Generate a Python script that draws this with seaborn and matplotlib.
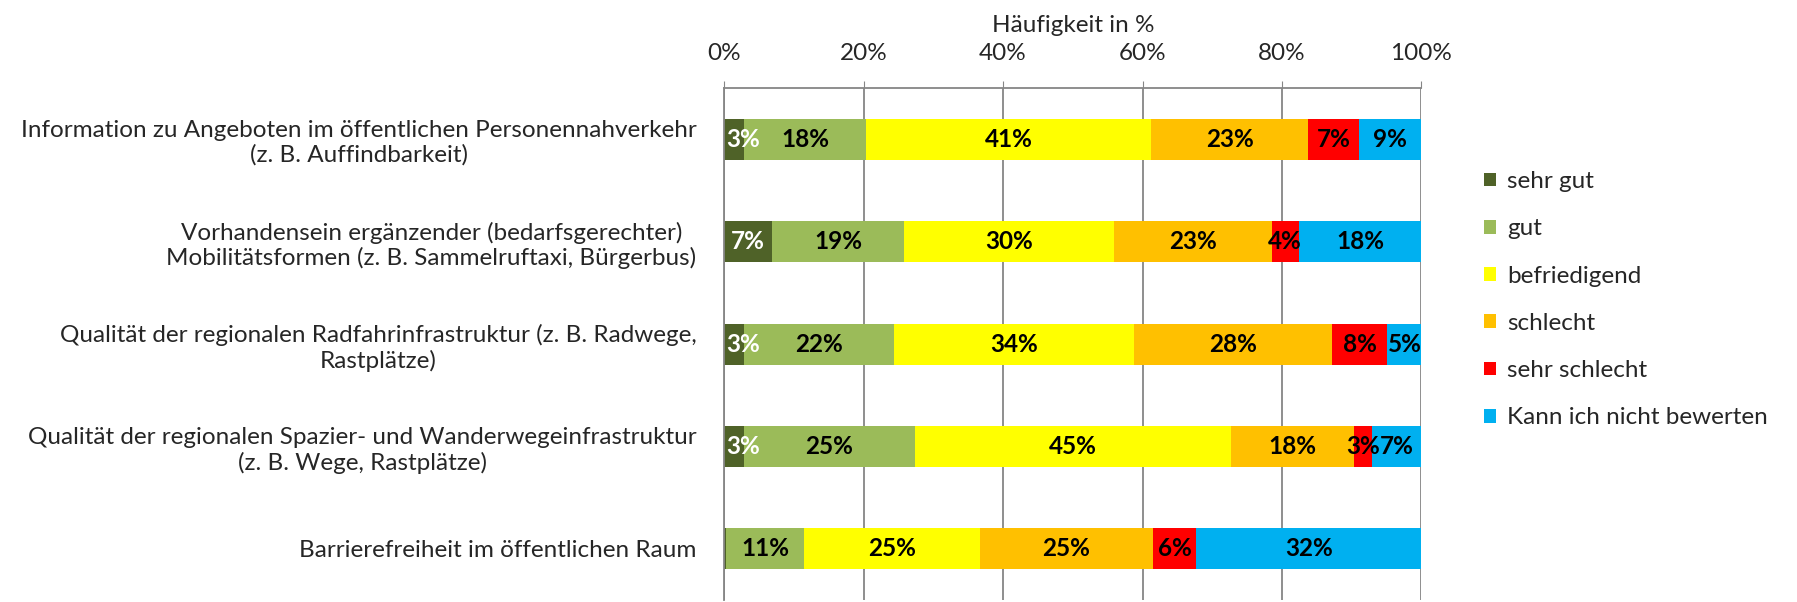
import matplotlib.pyplot as plt
import pandas as pd
import seaborn as sns
from matplotlib.patches import Patch

sns.set_style("white")
plt.rcParams["font.family"] = ["Lato", "DejaVu Sans"]

## Data
categories = [
    "Information zu Angeboten im öffentlichen Personennahverkehr\n(z. B. Auffindbarkeit)",
    "Vorhandensein ergänzender (bedarfsgerechter)\nMobilitätsformen (z. B. Sammelruftaxi, Bürgerbus)",
    "Qualität der regionalen Radfahrinfrastruktur (z. B. Radwege,\nRastplätze)",
    "Qualität der regionalen Spazier- und Wanderwegeinfrastruktur\n(z. B. Wege, Rastplätze)",
    "Barrierefreiheit im öffentlichen Raum",
]
sehr_gut = [2.8, 6.9, 2.8, 2.8, 0.3]
gut = [17.6, 18.9, 21.6, 24.6, 11.2]
befriedigend = [40.8, 30.1, 34.4, 45.3, 25.2]
schlecht = [22.6, 22.6, 28.4, 17.6, 24.8]
sehr_schlecht = [7.2, 3.9, 7.9, 2.6, 6.2]
kann_nicht = [9.0, 17.6, 4.9, 7.1, 32.3]

series_names = ["sehr gut", "gut", "befriedigend", "schlecht",
                "sehr schlecht", "Kann ich nicht bewerten"]
colors = ["#4F6228", "#9BBB59", "#FFFF00", "#FFC000", "#FF0000", "#00B0F0"]
text_colors = ["white", "black", "black", "black", "black", "black"]

df = pd.DataFrame(
    {name: vals for name, vals in zip(
        series_names,
        [sehr_gut, gut, befriedigend, schlecht, sehr_schlecht, kann_nicht])},
    index=categories,
)
cum = df.cumsum(axis=1)

## Plot
fig = plt.figure(figsize=(17.97, 6.02), dpi=100)
ax = fig.add_axes([0.403, 0.003, 0.388, 0.851])

# stacked bars: draw cumulative totals from back to front
for name, color in reversed(list(zip(series_names, colors))):
    sns.barplot(
        ax=ax,
        x=cum[name].values,
        y=categories,
        orient="h",
        color=color,
        width=0.4,
        saturation=1,
        linewidth=0,
    )

for name, tcolor in zip(series_names, text_colors):
    for i, cat in enumerate(categories):
        val = df.loc[cat, name]
        if round(val) < 1:
            continue
        x, ha = cum.loc[cat, name] - val / 2, "center"
        if cum.loc[cat, name] - val == 0 and val < 5:
            # narrow first segment: label starts at the axis
            x, ha = 0.35, "left"
        ax.text(
            x, i, f"{val:.0f}%",
            ha=ha, va="center", fontsize=17.5, fontweight="bold",
            color=tcolor,
        )

ax.set_xlim(0, 100)
ax.set_ylim(4.5, -0.5)
ax.set_xticks(range(0, 101, 20))
ax.set_xticklabels([f"{t}%" for t in range(0, 101, 20)])
ax.xaxis.tick_top()
ax.xaxis.set_label_position("top")
ax.set_xlabel("Häufigkeit in %", fontsize=17.5, labelpad=8)
ax.set_ylabel("")
ax.tick_params(axis="x", labelsize=17.5, length=5, color="#868686", pad=12)
ax.grid(axis="x", color="#868686", linewidth=1.3)
ax.set_axisbelow(True)

ax.tick_params(axis="y", which="major", length=0, labelsize=17.5, pad=20)
ax.set_yticks([0.5, 1.5, 2.5, 3.5], minor=True)
ax.tick_params(axis="y", which="minor", length=7, color="#868686", width=1.3)
for lab in ax.get_yticklabels():
    lab.set_multialignment("center")

for side in ["right", "bottom"]:
    ax.spines[side].set_visible(False)
for side in ["left", "top"]:
    ax.spines[side].set_color("#868686")
    ax.spines[side].set_linewidth(1.3)

handles = [Patch(facecolor=c, edgecolor="none") for c in colors]
fig.legend(
    handles, series_names,
    loc="center left", bbox_to_anchor=(0.826, 0.502),
    frameon=False, fontsize=17.5, labelspacing=1.08,
    handlelength=0.5, handleheight=0.5, handletextpad=0.45,
    borderaxespad=0, borderpad=0,
)

plt.savefig("out.png", dpi=100)
plt.close()
